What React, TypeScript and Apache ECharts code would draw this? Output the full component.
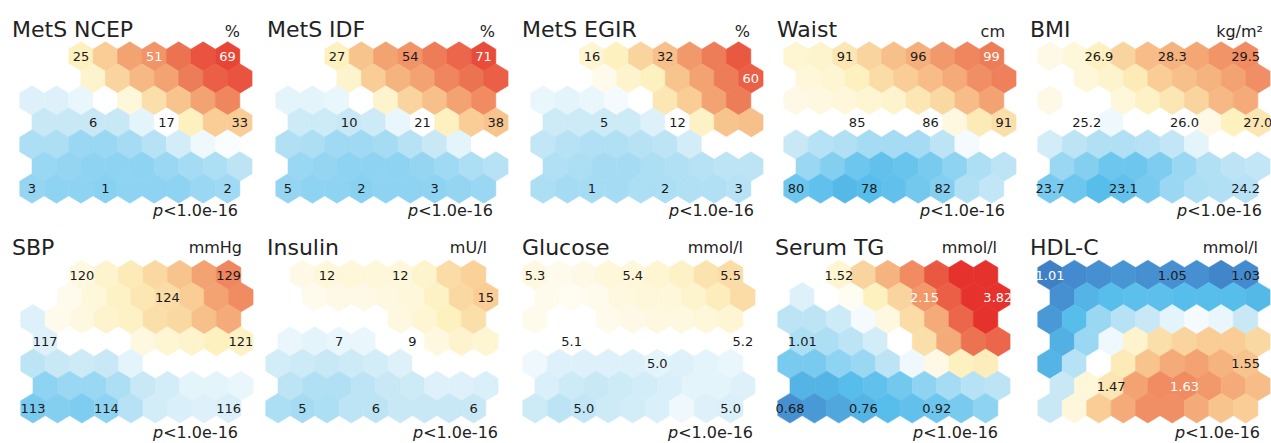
import React, { useEffect, useRef } from 'react';
import * as echarts from 'echarts';

// ---------- data ----------
const panelTitles = ['MetS NCEP', 'MetS IDF', 'MetS EGIR', 'Waist', 'BMI', 'SBP', 'Insulin', 'Glucose', 'Serum TG', 'HDL-C'];
const panelUnits = ['%', '%', '%', 'cm', 'kg/m²', 'mmHg', 'mU/l', 'mmol/l', 'mmol/l', 'mmol/l'];
const pValueLabel = '<1.0e-16';

// cell levels (standardised colour level, -5 = dark blue, 0 = white, 5 = red), 7 rows x 9 columns
const metsNcep = [
  [0, 0, 1, 2, 3, 3.3, 4, 4.5, 4.7],
  [0, 0, 0.8, 1.8, 2.5, 3, 3.8, 4.3, 4.5],
  [-0.6, -0.6, -0.4, 0, 0.6, 1.5, 2.2, 3, 3.6],
  [-1, -1, -1, -1, -0.5, 0, 1, 2, 2],
  [-1.5, -1.5, -1.8, -1.8, -1.6, -1.3, -0.8, -0.3, -0.1],
  [-1.8, -1.9, -2, -2, -2, -1.8, -1.6, -1.5, -1.2],
  [-1.9, -2, -2, -2.1, -2, -2, -2, -1.8, -1.7],
];
const metsIdf = [
  [0, 0, 1, 2.2, 3, 3.3, 3.8, 4.2, 4.6],
  [0, 0, 0.8, 2, 2.6, 3, 3.6, 4, 4.3],
  [-0.5, -0.5, -0.4, 0, 0.8, 1.8, 2.3, 3, 3.5],
  [-0.9, -0.9, -1, -0.9, -0.4, 0, 1, 2, 2.2],
  [-1.4, -1.5, -1.7, -1.7, -1.6, -1.3, -1, -0.5, 0],
  [-1.8, -1.9, -2, -2, -2, -1.9, -1.7, -1.5, -1.3],
  [-1.9, -2, -2, -2.1, -2, -2, -2, -1.9, -1.8],
];
const metsEgir = [
  [0, 0, 0.7, 1, 1.8, 2.3, 3.2, 3.8, 4.4],
  [0, 0, 0.3, 0.8, 1, 2.2, 3, 3.8, 4.3],
  [-0.4, -0.5, -0.4, -0.2, 0, 1.3, 2, 3, 3.8],
  [-0.9, -0.9, -0.9, -0.9, -0.6, 0, 0.9, 2.2, 2.3],
  [-1.1, -1.3, -1.4, -1.4, -1.3, -1.2, -0.8, 0, 0],
  [-1.4, -1.5, -1.6, -1.6, -1.5, -1.4, -1.3, -1.2, -1.2],
  [-1.5, -1.6, -1.6, -1.6, -1.5, -1.5, -1.4, -1.4, -1.3],
];
const waist = [
  [0.7, 0.8, 1.3, 1.8, 2.3, 2.7, 3.2, 3.6, 3.8],
  [0.6, 0.7, 1, 1.6, 2, 2.4, 2.8, 3.4, 3.7],
  [0.4, 0.5, 0.6, 0.7, 0.8, 1.3, 1.7, 2.4, 3],
  [0, 0, 0, 0, 0, 0, 0.5, 1.2, 1.5],
  [-1, -1.3, -1.4, -1.6, -1.6, -1.6, -1.2, -0.2, 0],
  [-1.8, -2.2, -2.6, -2.8, -2.7, -2.4, -2, -1.5, -1.2],
  [-2.6, -2.8, -3.1, -3, -2.8, -2.5, -2.2, -1.4, -1.1],
];
const bmi = [
  [0.4, 0.6, 1, 1.8, 2.4, 2.6, 2.9, 3.3, 3.5],
  [0, 0.6, 0.8, 1.2, 2, 2.3, 2.6, 3, 3.4],
  [0.4, 0, 0, 0.6, 0.9, 1.3, 1.8, 2.5, 2.8],
  [0, 0, -0.3, 0, 0, 0, 0.4, 1, 1.3],
  [-0.8, -1.2, -1.4, -1.4, -1.3, -1.1, -0.5, 0, 0],
  [-1.8, -2.2, -2.6, -2.6, -2.3, -1.8, -1.4, -1.2, -1.1],
  [-2.4, -2.6, -3, -2.8, -2.4, -1.8, -1.5, -1.4, -1.3],
];
const sbp = [
  [0, 0, 0.5, 0.8, 1.2, 1.7, 2.2, 3, 3.6],
  [0, 0.3, 0.6, 0.9, 1.3, 1.6, 2, 3, 3.5],
  [-0.6, 0.3, 0.5, 0.8, 0.9, 1.5, 1.7, 2.3, 2.8],
  [-0.6, 0, 0, 0, 0.5, 0.7, 0.8, 1, 0.9],
  [-1.2, -1, -0.9, -1, -0.5, 0, 0, 0, 0],
  [-2, -1.8, -1.8, -1.5, -1, -0.8, -0.5, -0.5, -0.4],
  [-2.4, -2.2, -2.3, -2, -1.3, -0.8, -0.7, -0.6, -0.7],
];
const insulin = [
  [0, 0.4, 0.6, 0.6, 0.6, 0.6, 0.8, 1.6, 1.9],
  [0, 0.3, 0.4, 0.4, 0.5, 0.6, 0.9, 1.7, 2],
  [0, 0, 0, 0, 0, 0.5, 0.7, 1, 1.5],
  [-0.4, -0.5, -0.4, -0.4, 0, 0, 0.5, 0.8, 0.7],
  [-0.8, -0.9, -1, -0.9, -0.8, -0.6, 0, 0, 0],
  [-1.2, -1.4, -1.4, -1.2, -1, -0.9, -0.6, -0.6, -0.7],
  [-1.5, -1.6, -1.5, -1.2, -1.2, -1, -1, -1, -1],
];
const glucose = [
  [0.5, 0.3, 0.4, 0.6, 0.6, 0.7, 0.9, 1.4, 1.6],
  [0.3, 0.2, 0.3, 0.5, 0.6, 0.6, 0.8, 1.1, 1.6],
  [0.3, 0, 0, 0.3, 0.4, 0.5, 0.5, 0.6, 0.7],
  [0, 0, 0, 0, 0, 0, 0, 0, 0],
  [-0.3, -0.6, -0.6, -0.6, -0.6, -0.5, -0.6, -0.5, -0.4],
  [-0.7, -0.9, -1, -0.9, -0.8, -0.7, -0.5, -0.5, -0.6],
  [-0.9, -1.2, -1.1, -0.9, -0.8, -0.7, -0.3, -0.6, -0.7],
];
const serumTg = [
  [0, 0, 0.7, 1.8, 2.6, 3.5, 4.4, 5, 5],
  [-0.6, 0, 0.2, 1, 1.8, 3.2, 4.3, 5, 5.2],
  [-1.2, -1.2, -0.9, -0.2, 0.5, 1.6, 2.8, 4.2, 5],
  [-1.5, -1.5, -1.2, -0.8, 0, 1.5, 2.8, 4, 4.2],
  [-2.4, -2.4, -2, -1.8, -1.2, -0.3, 0.4, 1, 1.1],
  [-3.2, -3.2, -3, -2.8, -2.5, -2, -1.6, -1.3, -1.2],
  [-4, -3.8, -3.5, -3.2, -3, -2.8, -2.6, -2.4, -2],
];
const hdlC = [
  [-4.6, -4.2, -4, -3.9, -4, -4, -4, -4.4, -4.2],
  [-4, -3.2, -3, -2.9, -2.9, -3, -3, -3, -3.1],
  [-3.8, -3, -1.8, -1.3, -1, -0.5, -0.2, -0.4, -1],
  [-3.3, -1.8, -0.3, 0.8, 1.5, 1.8, 2, 2, 1.7],
  [-3.2, -1.3, 0, 1.2, 2.2, 2.8, 3, 2.6, 2.2],
  [-1, 0.6, 1.3, 3, 3.5, 3.5, 3.2, 2.8, 2.4],
  [-1, 0.6, 2, 2.8, 3.4, 3.4, 2.8, 2.2, 2],
];

// cell labels: [row, column, text, white text?]
const labelsNcep = [[0, 2, '25', 0], [0, 5, '51', 1], [0, 8, '69', 1], [3, 2, '6', 0], [3, 5, '17', 0], [3, 8, '33', 0], [6, 0, '3', 0], [6, 3, '1', 0], [6, 8, '2', 0]];
const labelsIdf = [[0, 2, '27', 0], [0, 5, '54', 0], [0, 8, '71', 1], [3, 2, '10', 0], [3, 5, '21', 0], [3, 8, '38', 0], [6, 0, '5', 0], [6, 3, '2', 0], [6, 6, '3', 0]];
const labelsEgir = [[0, 2, '16', 0], [0, 5, '32', 0], [1, 8, '60', 1], [3, 2, '5', 0], [3, 5, '12', 0], [6, 2, '1', 0], [6, 5, '2', 0], [6, 8, '3', 0]];
const labelsWaist = [[0, 2, '91', 0], [0, 5, '96', 0], [0, 8, '99', 1], [3, 2, '85', 0], [3, 5, '86', 0], [3, 8, '91', 0], [6, 0, '80', 0], [6, 3, '78', 0], [6, 6, '82', 0]];
const labelsBmi = [[0, 2, '26.9', 0], [0, 5, '28.3', 0], [0, 8, '29.5', 0], [3, 1, '25.2', 0], [3, 5, '26.0', 0], [3, 8, '27.0', 0], [6, 0, '23.7', 0], [6, 3, '23.1', 0], [6, 8, '24.2', 0]];
const labelsSbp = [[0, 2, '120', 0], [0, 8, '129', 0], [1, 5, '124', 0], [3, 0, '117', 0], [3, 8, '121', 0], [6, 0, '113', 0], [6, 3, '114', 0], [6, 8, '116', 0]];
const labelsInsulin = [[0, 2, '12', 0], [0, 5, '12', 0], [1, 8, '15', 0], [3, 2, '7', 0], [3, 5, '9', 0], [6, 1, '5', 0], [6, 4, '6', 0], [6, 8, '6', 0]];
const labelsGlucose = [[0, 0, '5.3', 0], [0, 4, '5.4', 0], [0, 8, '5.5', 0], [3, 1, '5.1', 0], [3, 8, '5.2', 0], [4, 5, '5.0', 0], [6, 2, '5.0', 0], [6, 8, '5.0', 0]];
const labelsTg = [[0, 2, '1.52', 0], [1, 5, '2.15', 1], [1, 8, '3.82', 1], [3, 0, '1.01', 0], [6, 0, '0.68', 0], [6, 3, '0.76', 0], [6, 6, '0.92', 0]];
const labelsHdl = [[0, 0, '1.01', 1], [0, 5, '1.05', 0], [0, 8, '1.03', 0], [4, 8, '1.55', 0], [5, 2, '1.47', 0], [5, 5, '1.63', 1]];

const levelGrids = [metsNcep, metsIdf, metsEgir, waist, bmi, sbp, insulin, glucose, serumTg, hdlC];
const labelSets: any[][] = [labelsNcep, labelsIdf, labelsEgir, labelsWaist, labelsBmi, labelsSbp, labelsInsulin, labelsGlucose, labelsTg, labelsHdl];

// ---------- styling / layout ----------
const colorStops = ['#3a74bd', '#4690d2', '#57bdea', '#8fd3f2', '#c8e8f6', '#ffffff', '#fdf1c0', '#f9cd95', '#f3a272', '#ec7351', '#e5322c'];
const FONT = '"DejaVu Sans", Verdana, sans-serif';
const gridX0 = [32, 288, 543, 796, 1050, 33, 278, 535, 790, 1050];
const gridY0 = [56.5, 275];
const colStep = 24.45;
const rowStep = [22, 22.2];
const titleX = [12, 267, 522, 777, 1030, 12, 267, 522, 775, 1030];
const unitRight = [240, 495, 750, 1005, 1263, 242, 487, 743, 997, 1258];
const pRight = [238, 493, 754, 1005, 1262, 238, 498, 753, 998, 1260];
const titleY = [29, 247.6];
const unitY = [31, 247.2];
const pY = [210.8, 432.2];

function hexItem(params: any, api: any) {
  const c = api.coord([api.value(0), api.value(1)]);
  const sx = api.size([1, 0])[0];
  const sy = api.size([0, 1])[1];
  const hw = sx / 2;
  const R = sy / 1.5;
  const color = api.visual('color');
  const cx = c[0], cy = c[1];
  return {
    type: 'polygon',
    shape: {
      points: [
        [cx, cy - R], [cx + hw, cy - R / 2], [cx + hw, cy + R / 2],
        [cx, cy + R], [cx - hw, cy + R / 2], [cx - hw, cy - R / 2],
      ],
    },
    style: { fill: color, stroke: color, lineWidth: 0.6 },
  };
}

export default function App() {
  const ref = useRef<HTMLDivElement>(null);
  useEffect(() => {
    document.body.style.margin = '0';
    const chart = echarts.init(ref.current as HTMLDivElement, null, { renderer: 'svg' });
    const grid: any[] = [];
    const xAxis: any[] = [];
    const yAxis: any[] = [];
    const series: any[] = [];
    const graphic: any[] = [];
    const hexSeriesIdx: number[] = [];

    levelGrids.forEach((lv, p) => {
      const pr = p < 5 ? 0 : 1;
      grid.push({ left: gridX0[p], top: gridY0[pr], width: 8.5 * colStep, height: 6 * rowStep[pr] });
      xAxis.push({ type: 'value', gridIndex: p, min: 0, max: 8.5, show: false });
      yAxis.push({ type: 'value', gridIndex: p, min: 0, max: 6, inverse: true, show: false });
      const data: number[][] = [];
      lv.forEach((row, r) => row.forEach((v, c) => data.push([c + (r % 2) * 0.5, r, v])));
      hexSeriesIdx.push(series.length);
      series.push({
        type: 'custom', name: panelTitles[p], xAxisIndex: p, yAxisIndex: p,
        data, renderItem: hexItem, clip: false, silent: true, z: 2,
      });
      const labs = labelSets[p];
      series.push({
        type: 'custom', name: panelTitles[p] + ' labels', xAxisIndex: p, yAxisIndex: p,
        data: labs.map((l) => [l[1] + (l[0] % 2) * 0.5, l[0]]),
        clip: false, silent: true, z: 3,
        renderItem: (params: any, api: any) => {
          const l = labs[params.dataIndex];
          const c = api.coord([api.value(0), api.value(1)]);
          return {
            type: 'text', x: c[0], y: c[1],
            style: {
              text: l[2], fill: l[3] ? '#ffffff' : '#1a1a1a',
              font: `13px ${FONT}`,
              align: 'center', verticalAlign: 'middle',
              textAlign: 'center', textVerticalAlign: 'middle',
            },
          };
        },
      });
      graphic.push({
        type: 'text', x: titleX[p], y: titleY[pr], silent: true,
        style: { text: panelTitles[p], fill: '#222', font: `22px ${FONT}`, align: 'left', verticalAlign: 'middle', textAlign: 'left', textVerticalAlign: 'middle' },
      });
      graphic.push({
        type: 'text', x: unitRight[p], y: unitY[pr], silent: true,
        style: { text: panelUnits[p], fill: '#222', font: `16px ${FONT}`, align: 'right', verticalAlign: 'middle', textAlign: 'right', textVerticalAlign: 'middle' },
      });
      graphic.push({
        type: 'text', x: pRight[p], y: pY[pr], silent: true,
        style: {
          text: '{i|p}{n|' + pValueLabel + '}',
          fill: '#222', font: `16px ${FONT}`,
          align: 'right', verticalAlign: 'middle', textAlign: 'right', textVerticalAlign: 'middle',
          rich: {
            i: { fontStyle: 'italic', fontSize: 16, fontFamily: FONT, fill: '#222' },
            n: { fontSize: 16, fontFamily: FONT, fill: '#222' },
          },
        },
      });
    });

    chart.setOption({
      animation: false,
      backgroundColor: '#ffffff',
      grid, xAxis, yAxis, series, graphic,
      visualMap: {
        type: 'continuous', show: false, min: -5, max: 5, dimension: 2,
        seriesIndex: hexSeriesIdx, inRange: { color: colorStops },
      },
    });
    return () => chart.dispose();
  }, []);
  return <div ref={ref} style={{ width: 1271, height: 443 }} />;
}
